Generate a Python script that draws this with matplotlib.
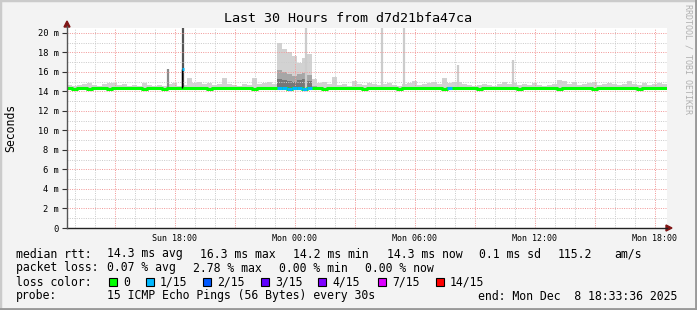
import numpy as np
import matplotlib
matplotlib.use('Agg')
import matplotlib.pyplot as plt
from matplotlib.patches import Rectangle, Polygon

# 30 hours of pings, one sample per 15 minutes, hours counted from Sun 12:36
step = 0.25

# upper edge of the smoke (slowest ping) in ms
smoke_max = [
    14.7, 14.6, 14.7, 14.8, 14.9, 14.7, 14.6, 14.8, 14.9, 14.9,
    14.7, 14.8, 14.6, 14.7, 14.6, 14.9, 14.7, 14.6, 14.7, 14.6,
    14.8, 14.9, 14.6, 14.7, 15.4, 14.9, 15.0, 14.8, 14.9, 14.7,
    14.8, 15.4, 14.8, 14.7, 14.6, 14.8, 14.7, 15.4, 14.8, 14.9,
    15.0, 14.8, 19.0, 18.3, 18.0, 17.6, 16.9, 17.4, 17.8, 15.3,
    14.9, 15.0, 14.8, 15.5, 14.7, 14.8, 14.6, 15.1, 14.8, 14.7,
    14.9, 14.8, 14.7, 14.8, 14.9, 14.7, 14.6, 14.8, 14.9, 15.1,
    14.7, 14.8, 14.9, 15.0, 14.8, 15.4, 14.9, 15.0, 15.0, 14.8,
    14.7, 14.6, 14.7, 14.8, 14.7, 14.6, 14.8, 15.0, 14.8, 14.9,
    14.7, 14.8, 14.7, 14.9, 14.7, 14.6, 14.7, 14.8, 15.2, 15.1,
    14.8, 15.0, 14.7, 14.8, 14.9, 15.0, 14.7, 14.8, 14.9, 14.8,
    14.7, 14.8, 15.1, 14.8, 14.7, 14.9, 14.7, 14.8, 14.9, 14.8,
]

# median rtt in ms
median = [
    14.3, 14.2, 14.3, 14.3, 14.2, 14.3, 14.3, 14.3, 14.2, 14.3,
    14.3, 14.3, 14.3, 14.3, 14.3, 14.2, 14.3, 14.3, 14.3, 14.2,
    14.3, 14.3, 14.3, 14.3, 14.3, 14.3, 14.3, 14.3, 14.2, 14.3,
    14.3, 14.3, 14.3, 14.3, 14.3, 14.3, 14.3, 14.2, 14.3, 14.3,
    14.3, 14.3, 14.3, 14.3, 14.2, 14.3, 14.3, 14.2, 14.3, 14.3,
    14.3, 14.2, 14.3, 14.3, 14.3, 14.3, 14.3, 14.3, 14.3, 14.2,
    14.3, 14.3, 14.3, 14.3, 14.3, 14.3, 14.2, 14.3, 14.3, 14.3,
    14.3, 14.3, 14.3, 14.3, 14.3, 14.2, 14.3, 14.3, 14.3, 14.3,
    14.3, 14.3, 14.2, 14.3, 14.3, 14.3, 14.3, 14.3, 14.3, 14.3,
    14.2, 14.3, 14.3, 14.3, 14.3, 14.3, 14.3, 14.3, 14.2, 14.3,
    14.3, 14.3, 14.3, 14.3, 14.3, 14.2, 14.3, 14.3, 14.3, 14.3,
    14.3, 14.3, 14.3, 14.3, 14.2, 14.3, 14.3, 14.3, 14.3, 14.3,
]

# lost pings (of 15) per sample, index -> count
loss_samples = [42, 43, 44, 45, 46, 47, 48, 76]
loss_counts = [1, 1, 1, 1, 1, 1, 1, 1]

# the burst just before midnight: inner smoke layers
burst_first = 42
burst_mid = [16.2, 16.0, 15.8, 15.6, 15.8, 15.9, 15.7, 14.6]
burst_dark = [15.3, 15.2, 15.1, 15.0, 15.2, 15.3, 15.1, 14.4]

# single narrow spikes (hour, top in ms)
spike_hours = [5.05, 5.8, 11.95, 15.75, 16.85, 19.55, 22.3]
spike_top = [16.3, 20.5, 20.5, 20.5, 20.5, 16.7, 17.2]
jump_hour = 5.75
jump_median = 16.3

x_tick_hours = [5.4, 11.4, 17.4, 23.4, 29.4]
x_tick_labels = ['Sun 18:00', 'Mon 00:00', 'Mon 06:00', 'Mon 12:00', 'Mon 18:00']

loss_labels = ['0', '1/15', '2/15', '3/15', '4/15', '7/15', '14/15']
loss_colors = ['#00ff00', '#00b8ff', '#0059ff', '#5e00ff', '#7e00ff', '#dd00ff', '#ff0000']

rtt_stats = ['14.3 ms avg', '16.3 ms max', '14.2 ms min', '14.3 ms now', '0.1 ms sd', '115.2', 'am/s']
loss_stats = ['0.07 % avg', '2.78 % max', '0.00 % min', '0.00 % now']

W, H = 697, 310
mono = 'DejaVu Sans Mono'
bg = '#f3f3f3'

def fx(px):
    return px / W

def fy(py):
    return 1 - py / H

fig = plt.figure(figsize=(W / 100, H / 100), dpi=100, facecolor=bg)
ax = fig.add_axes([fx(67), fy(228), 600 / W, 200 / H])
ax.set_facecolor('white')
ax.set_xlim(0, 30)
ax.set_ylim(0, 20.5)
for s in ax.spines.values():
    s.set_visible(False)

hours = np.arange(len(median)) * step
med = np.array(median)

# smoke
ax.bar(hours, np.array(smoke_max) - med, bottom=med, width=step, align='edge',
       color='#d2d2d2', linewidth=0, zorder=1)
bh = hours[burst_first:burst_first + len(burst_mid)]
bm = med[burst_first:burst_first + len(burst_mid)]
ax.bar(bh, np.array(burst_mid) - bm + 0.1, bottom=bm - 0.1, width=step, align='edge',
       color='#a6a6a6', linewidth=0, zorder=1.1)
ax.bar(bh, np.array(burst_dark) - bm + 0.1, bottom=bm - 0.1, width=step, align='edge',
       color='#777777', linewidth=0, zorder=1.2)

spike_colors = ['#8a8a8a', '#555555', '#cccccc', '#cccccc', '#cccccc', '#cccccc', '#cccccc']
for h, top, c in zip(spike_hours, spike_top, spike_colors):
    ax.vlines(h, 14.3, top, colors=c, linewidth=1.6, zorder=1.3)

# grid, dotted and drawn over the smoke
for k in range(30):
    h = 0.4 + k
    ax.axvline(h, color='#f29a9a' if k % 3 == 2 else '#cccccc',
               linestyle=(0, (1, 1.3)), linewidth=0.72, zorder=2)
for v in range(1, 21):
    ax.axhline(v, color='#f29a9a' if v % 2 == 0 else '#cccccc',
               linestyle=(0, (1, 1.3)), linewidth=0.72, zorder=2)

# median line coloured by loss
edges = np.append(hours, hours[-1] + step)
ax.step(edges, np.append(med, med[-1]), where='post', color=loss_colors[0],
        linewidth=2.2, zorder=3)
for i, n in zip(loss_samples, loss_counts):
    ax.hlines(med[i], hours[i], hours[i] + step, colors=loss_colors[n],
              linewidth=2.2, zorder=3.1)
ax.vlines(jump_hour, 14.3, jump_median, colors='black', linewidth=1.0, zorder=3.2)
ax.hlines(jump_median, jump_hour, jump_hour + 0.08, colors=loss_colors[1],
          linewidth=2.2, zorder=3.2)

# ticks
ax.set_xticks(x_tick_hours)
ax.set_xticklabels(x_tick_labels, fontfamily=mono, fontsize=6)
ax.tick_params(axis='x', length=0, pad=4)
ax.set_yticks(range(0, 21, 2))
ax.set_yticklabels(['0'] + ['%d m' % v for v in range(2, 21, 2)], fontfamily=mono, fontsize=6.3)
ax.tick_params(axis='y', length=3.5, width=0.8, color='#333333', pad=2.5)

# axis lines and arrows
fig.add_artist(plt.Line2D([fx(67), fx(667)], [fy(228), fy(228)], color='#222222', linewidth=1.0))
fig.add_artist(plt.Line2D([fx(67), fx(67)], [fy(228), fy(26)], color='#555555', linewidth=1.0))
fig.add_artist(Polygon([(fx(666), fy(225)), (fx(672), fy(228)), (fx(666), fy(231))],
                       closed=True, color='#7f1515', transform=fig.transFigure))
fig.add_artist(Polygon([(fx(64), fy(27)), (fx(67), fy(21)), (fx(70), fy(27))],
                       closed=True, color='#7f1515', transform=fig.transFigure))

# titles
fig.text(fx(348), fy(19), 'Last 30 Hours from d7d21bfa47ca', fontfamily=mono, fontsize=9.6,
         ha='center', va='center')
fig.text(fx(11), fy(128), 'Seconds', fontfamily=mono, fontsize=8.3, rotation=90,
         ha='center', va='center')
fig.text(fx(688), fy(59), 'RRDTOOL / TOBI OETIKER', fontfamily=mono, fontsize=6,
         rotation=270, ha='center', va='center', color='#b0b0b0')

# legend
fs = 8.3
def put(x, y, s):
    fig.text(fx(x), fy(y), s, fontfamily=mono, fontsize=fs, ha='left', va='center')

put(16, 254, 'median rtt:')
for x, s in zip([107, 200, 293, 387, 479, 558, 614], rtt_stats):
    put(x, 254, s)
put(16, 268, 'packet loss:')
for x, s in zip([107, 193, 279, 365], loss_stats):
    put(x, 268, s)
put(16, 282, 'loss color:')
for bx, lab, col in zip([109, 146, 203, 261, 318, 378, 436], loss_labels, loss_colors):
    fig.add_artist(Rectangle((fx(bx), fy(286)), 8 / W, 8 / H, facecolor=col,
                             edgecolor='black', linewidth=0.8, transform=fig.transFigure))
    put(bx + 14, 282, lab)
put(16, 296, 'probe:')
put(107, 296, '15 ICMP Echo Pings (56 Bytes) every 30s')
put(478, 296, 'end: Mon Dec  8 18:33:36 2025')

# frame
fig.add_artist(plt.Line2D([0, 0, 1], [0, 1, 1], color='#cbcbcb', linewidth=2.5))
fig.add_artist(plt.Line2D([0, 1, 1], [0, 0, 1], color='#999999', linewidth=3.5))

fig.savefig('out.png', dpi=100, facecolor=bg)
